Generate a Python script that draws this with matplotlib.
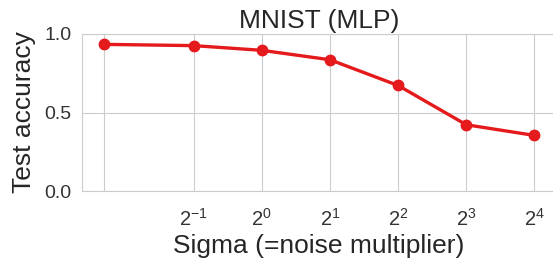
import matplotlib
matplotlib.use("Agg")
import matplotlib.pyplot as plt
import numpy as np
import seaborn as sns

sigmas = [0.2, 0.5, 1, 2, 4, 8, 16]
accuracy = [0.934, 0.926, 0.896, 0.836, 0.672, 0.422, 0.354]
y_ticks = [0.0, 0.5, 1.0]

sns.set_style("whitegrid")
plt.rcParams["font.family"] = ["Liberation Sans", "DejaVu Sans"]
plt.rcParams["mathtext.fontset"] = "custom"
plt.rcParams["mathtext.rm"] = "Liberation Sans"
plt.rcParams["mathtext.it"] = "Liberation Sans"


def pow2_label(value):
    exponent = np.log2(value)
    if np.isclose(exponent, round(exponent)):
        return rf"$\mathregular{{2^{{{int(round(exponent))}}}}}$"
    return ""


fig = plt.figure(figsize=(5.53, 2.64), dpi=100)
ax = fig.add_axes([82 / 553, 73 / 264, 474 / 553, 157 / 264])
ax.plot(sigmas, accuracy, color="#e41a1c", linewidth=2.4, marker="o", markersize=7.5)
ax.set_xscale("log", base=2)
ax.set_xticks(sigmas)
ax.set_xticklabels([pow2_label(s) for s in sigmas])
ax.xaxis.set_minor_locator(matplotlib.ticker.NullLocator())
ax.set_ylim(0, 1)
ax.set_yticks(y_ticks)
ax.tick_params(axis="both", labelsize=14, colors="#333333", pad=4)
ax.tick_params(axis="x", labelsize=14.5, pad=9)
ax.set_xlabel("Sigma (=noise multiplier)", fontsize=19, color="#262626", labelpad=3)
ax.set_ylabel("Test accuracy", fontsize=19, color="#262626", labelpad=6)
ax.set_title("MNIST (MLP)", fontsize=19, color="#262626", pad=4)

fig.savefig("out.png", dpi=100)
